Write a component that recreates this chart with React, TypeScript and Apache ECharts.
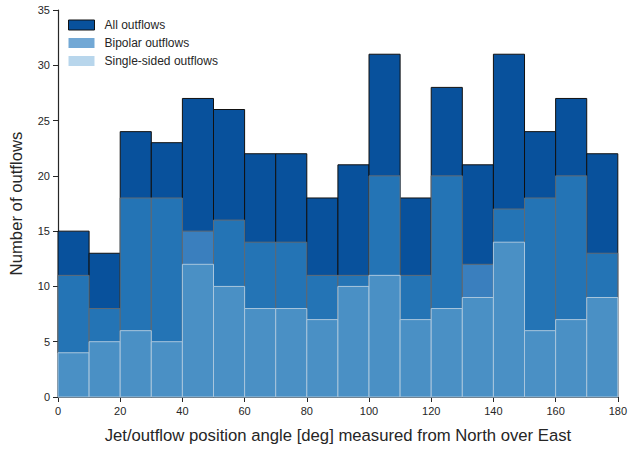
import React, { useEffect, useRef } from "react";
import * as echarts from "echarts";

const binStarts = [0, 10, 20, 30, 40, 50, 60, 70, 80, 90, 100, 110, 120, 130, 140, 150, 160, 170];
const binWidth = 10;
const allOutflows = [15, 13, 24, 23, 27, 26, 22, 22, 18, 21, 31, 18, 28, 21, 31, 24, 27, 22];
const bipolarOutflows = [11, 8, 18, 18, 15, 16, 14, 14, 11, 11, 20, 11, 20, 12, 17, 18, 20, 13];
const singleOutflows = [4, 5, 6, 5, 12, 10, 8, 8, 7, 10, 11, 7, 8, 9, 14, 6, 7, 9];
const lighterBipolarBins = [40, 130];

const xTicks = [0, 20, 40, 60, 80, 100, 120, 140, 160, 180];

const FONT = "Liberation Sans, Arial, sans-serif";

function histSeries(name: string, values: number[], fill: (s: number) => string, stroke: string, z: number) {
  const data = binStarts.map((s, i) => [s, s + binWidth, values[i]]);
  return {
    type: "custom",
    name,
    z,
    data,
    encode: { x: [0, 1], y: 2 },
    renderItem: (params: any, api: any) => {
      const s = api.value(0);
      const e = api.value(1);
      const v = api.value(2);
      const p0 = api.coord([s, v]);
      const p1 = api.coord([e, 0]);
      return {
        type: "rect",
        shape: { x: p0[0], y: p0[1], width: p1[0] - p0[0], height: p1[1] - p0[1] },
        style: { fill: fill(s), stroke, lineWidth: 1 },
      };
    },
  };
}

export default function App() {
  const ref = useRef<HTMLDivElement>(null);
  useEffect(() => {
    if (!ref.current) return;
    const chart = echarts.init(ref.current, undefined, { renderer: "svg" });
    chart.setOption({
      animation: false,
      textStyle: { fontFamily: FONT },
      grid: { left: 57, right: 9, top: 10, bottom: 52 },
      legend: {
        left: 63,
        top: 14,
        orient: "vertical",
        itemWidth: 26,
        itemHeight: 10,
        itemGap: 6,
        textStyle: { fontSize: 12, color: "#262626", fontFamily: FONT, padding: [0, 0, 0, 5] },
        data: [
          { name: "All outflows", icon: "rect", itemStyle: { color: "#08519c", borderColor: "#111", borderWidth: 1 } },
          { name: "Bipolar outflows", icon: "rect", itemStyle: { color: "#72a8d5", borderColor: "#9aa", borderWidth: 0 } },
          { name: "Single-sided outflows", icon: "rect", itemStyle: { color: "#b8d6ec", borderWidth: 0 } },
        ],
      },
      xAxis: {
        type: "value",
        min: 0,
        max: 180,
        interval: 20,
        name: "Jet/outflow position angle [deg] measured from North over East",
        nameLocation: "middle",
        nameGap: 30,
        nameTextStyle: { fontSize: 16.7, color: "#262626", fontFamily: FONT },
        axisLine: { show: true, lineStyle: { color: "#262626", width: 1.2 } },
        axisTick: { show: true, inside: false, length: 5, lineStyle: { color: "#262626" } },
        axisLabel: { fontSize: 11, color: "#262626", margin: 8, fontFamily: FONT, customValues: xTicks },
        splitLine: { show: false },
      },
      yAxis: {
        type: "value",
        min: 0,
        max: 35,
        interval: 5,
        name: "Number of outflows",
        nameLocation: "middle",
        nameGap: 33,
        nameTextStyle: { fontSize: 16.7, color: "#262626", fontFamily: FONT },
        axisLine: { show: true, lineStyle: { color: "#262626", width: 1.2 } },
        axisTick: { show: true, inside: false, length: 5, lineStyle: { color: "#262626" } },
        axisLabel: { fontSize: 11, color: "#262626", margin: 8, fontFamily: FONT },
        splitLine: { show: false },
      },
      series: [
        histSeries("All outflows", allOutflows, () => "#08519c", "#111111", 1),
        histSeries(
          "Bipolar outflows",
          bipolarOutflows,
          (s) => (lighterBipolarBins.includes(s) ? "#3a7fbe" : "#2474b5"),
          "#5f6a75",
          2
        ),
        histSeries("Single-sided outflows", singleOutflows, () => "#4a90c5", "#a9c6dd", 3),
      ],
    });
    return () => chart.dispose();
  }, []);
  return <div ref={ref} style={{ width: 630, height: 449, position: "absolute", left: 0, top: 0 }} />;
}
